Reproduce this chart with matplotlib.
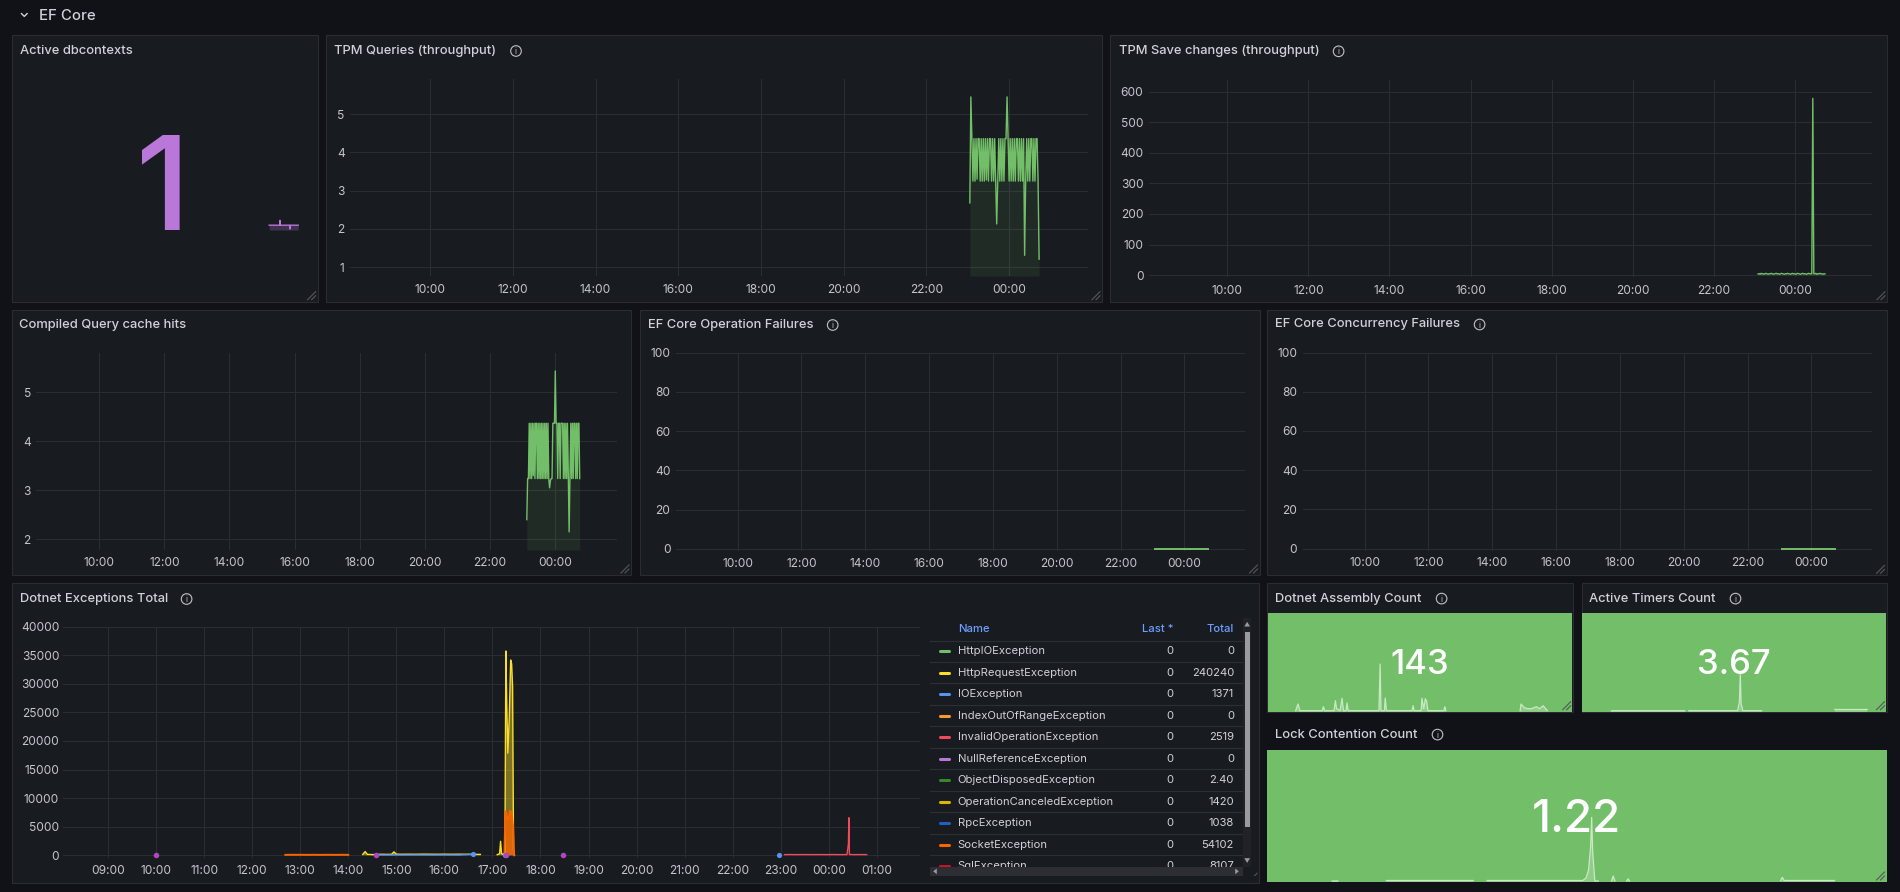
import numpy as np
import matplotlib
matplotlib.use('Agg')
import matplotlib.pyplot as plt
import matplotlib.transforms as mtransforms
from matplotlib.patches import Rectangle, Circle, Polygon
from matplotlib.lines import Line2D
from matplotlib.ticker import FixedLocator, FuncFormatter

plt.rcParams['font.family'] = ['Inter', 'DejaVu Sans']

# ---------------- DATA ----------------
T_START, T_END = 8.07, 25.9          # visible time range in hours (24 = 00:00 next day)
SAMPLE_STEP = 0.025                  # scrape interval in hours

tpm_q_start = 23.05
tpm_q_values = [2.68, 5.45, 4.36, 3.25, 4.36, 3.25, 4.36, 3.30, 4.36, 4.36,
                3.25, 4.36, 3.25, 4.36, 3.25, 4.36, 3.28, 4.36, 3.25, 4.36,
                4.36, 3.25, 4.36, 3.25, 4.36, 3.25, 2.13, 3.25, 4.36, 3.25,
                4.36, 3.25, 4.36, 3.25, 4.36, 4.36, 5.45, 4.36, 3.25, 4.36,
                3.25, 4.36, 3.25, 4.36, 3.25, 4.36, 4.36, 3.25, 4.36, 3.25,
                4.36, 3.25, 4.36, 1.31, 3.25, 4.36, 3.25, 4.36, 3.25, 4.36,
                4.36, 3.25, 4.36, 3.25, 4.36, 4.36, 3.25, 1.21]

tpm_save_start = 23.09
tpm_save_values = [4, 5, 3, 6, 4, 5, 3, 5, 6, 4,
                   3, 5, 4, 6, 5, 3, 4, 5, 6, 4,
                   5, 3, 4, 6, 5, 4, 3, 5, 4, 6,
                   5, 4, 3, 5, 6, 4, 5, 3, 4, 6,
                   5, 4, 3, 5, 6, 4, 5, 4, 3, 5,
                   6, 4, 5, 4, 578, 5, 4, 6, 3, 5, 4, 6, 5, 4, 3, 5, 4]

cache_start = 23.13
cache_values = [2.40, 3.24, 3.24, 4.37, 3.24, 4.37, 3.24, 4.37, 3.30, 4.37,
                3.24, 4.37, 4.37, 3.24, 4.37, 3.24, 4.37, 3.24, 4.37, 3.24,
                4.37, 3.24, 4.37, 3.24, 4.37, 3.24, 4.37, 3.24, 3.05, 3.20,
                3.24, 3.24, 4.37, 4.37, 4.37, 5.44, 4.37, 4.37, 3.24, 4.37,
                4.37, 3.24, 4.37, 4.37, 4.37, 3.24, 4.37, 3.24, 4.37, 3.24,
                4.37, 3.30, 2.15, 3.24, 4.37, 3.24, 4.37, 3.24, 4.37, 4.37,
                3.24, 4.37, 3.24, 4.37, 4.37, 3.24]

fail_times = [23.09, 23.5, 24.0, 24.4, 24.74]
op_fail_values = [0, 0, 0, 0, 0]
conc_fail_values = [0, 0, 0, 0, 0]

dbctx_value = "1"
dbctx_times = [23.08, 23.3, 23.6, 23.69, 23.71, 23.73, 24.0, 24.27, 24.29, 24.31, 24.5, 24.77]
dbctx_values = [1, 1, 1, 1, 1.1, 1, 1, 1, 0.92, 1, 1, 1]

# Dotnet exceptions time series
httpreq_times = [14.30, 14.35, 14.40, 14.45, 14.50, 14.60, 14.70, 14.80, 14.90, 14.95,
                 15.00, 15.10, 15.25, 15.40, 15.55, 15.70, 15.85, 16.00, 16.15, 16.30,
                 16.45, 16.60, 16.75, 16.90,
                 17.10, 17.15, 17.17, 17.19, 17.22, 17.26, 17.28, 17.30, 17.32, 17.35,
                 17.38, 17.40, 17.42, 17.44, 17.46]
httpreq_values = [150, 650, 150, 150, 120, 150, 180, 160, 170, 600,
                  200, 180, 190, 180, 200, 190, 180, 190, 180, 190,
                  180, 170, 150, np.nan,
                  100, 300, 2450, 300, 150, 400, 35750, 26000, 17880, 24000,
                  34180, 33500, 29500, 900, 50]

socket_times = [12.69, 12.8, 12.9, 13.0, 13.1, 13.2, 13.3, 13.4, 13.5, 13.6, 13.7, 13.8, 13.9, 14.0, 14.1,
                17.25, 17.27, 17.29, 17.31, 17.33, 17.35, 17.37, 17.39, 17.41, 17.43, 17.45]
socket_values = [80, 90, 85, 90, 80, 85, 90, 80, 85, 90, 80, 85, 90, 80, np.nan,
                 0, 7700, 7400, 6300, 6240, 7000, 7800, 7600, 6500, 5000, 0]

invalidop_times = [23.08, 23.2, 23.35, 23.5, 23.65, 23.8, 23.95, 24.1, 24.25, 24.38,
                   24.41, 24.42, 24.43, 24.45, 24.55, 24.65, 24.79]
invalidop_values = [120, 130, 120, 130, 120, 130, 120, 130, 120, 130,
                    2000, 6580, 150, 130, 120, 130, 120]

ioexc_times = [14.55, 14.8, 15.1, 15.4, 15.7, 16.0, 16.3, 16.62]
ioexc_values = [60, 70, 60, 70, 60, 70, 60, 200]
ioexc_dot_times = [16.6, 17.27, 22.96]
ioexc_dot_values = [150, 0, 0]

nullref_dot_times = [10.0, 14.58, 17.28, 18.46]
nullref_dot_values = [0, 0, 0, 0]

exc_names = ["HttpIOException", "HttpRequestException", "IOException", "IndexOutOfRangeException",
             "InvalidOperationException", "NullReferenceException", "ObjectDisposedException",
             "OperationCanceledException", "RpcException", "SocketException", "SqlException"]
exc_colors = ["#73bf69", "#fade2a", "#5794f2", "#ff9830", "#f2495c", "#b877d9", "#37872d",
              "#e0b400", "#1f60c4", "#fa6400", "#c4162a"]
exc_last = ["0", "0", "0", "0", "0", "0", "0", "0", "0", "0", "0"]
exc_total = ["0", "240240", "1371", "0", "2519", "0", "2.40", "1420", "1038", "54102", "8107"]

# Stat panels
assembly_value = "143"
assembly_times = [9.70, 9.84, 9.95, 11.25, 11.33, 11.40, 11.95, 12.03, 12.10, 12.30, 12.42, 12.50,
                  12.65, 12.71, 12.78, 14.58, 14.65, 14.70, 14.90, 14.95, 15.02, 16.52, 16.58,
                  16.64, 17.05, 17.10, 17.20, 17.30, 17.38, 17.45, 18.38, 18.44, 18.50, 20.0,
                  22.85, 22.90, 23.10, 23.30, 23.50, 23.80, 24.00, 24.20, 24.44]
assembly_values = [1, 7.7, 1, 1, 5, 1, 1, 11, 3, 1, 13.4, 1,
                   1, 8.7, 1, 1, 47.7, 1, 1, 13.7, 1, 1, 6,
                   1, 1, 13.4, 3, 13, 10, 1, 1, 5, 1, np.nan,
                   1, 7.7, 4, 3, 3, 5, 3, 6, 1]

timers_value = "3.67"
timers_times = [9.79, 14.1, 14.2, 14.33, 17.2, 17.3, 17.35, 17.4, 17.5, 18.6, 20.0, 22.9, 24.8]
timers_values = [1, 1, np.nan, 1, 1, 10, 37.8, 8, 1, 1, np.nan, 2.2, 2.2]

lock_value = "1.22"
lock_times = [9.94, 10.1, 10.8, 11.5, 14.0, 14.2, 14.4, 17.15, 17.25, 17.32, 17.38, 17.41, 17.44,
              17.5, 17.6, 17.8, 17.98, 18.03, 18.08, 18.2, 18.42, 18.46, 18.5, 20.0,
              22.85, 22.9, 22.95, 23.5, 24.4]
lock_values = [1, 1, np.nan, 1.5, 1.5, np.nan, 1.5, 1.5, 4, 12, 35, 64.6, 30,
               1, 1, np.nan, 1, 6, 1, np.nan, 1, 3.2, 1, np.nan,
               1.5, 4.7, 1.5, 1.5, 1.5]

# ---------------- STYLE ----------------
W, H = 1900, 892
BG = '#111217'
PANEL = '#181b1f'
BORDER = '#2a2c31'
GRID = '#2a2d32'
TXT = '#d0d1da'
TICK = '#c3c4cd'
GREEN = '#73bf69'
PURPLE = '#b877d9'
TITLE_SIZE = 9.3
LEG_SIZE = 8.1

fig = plt.figure(figsize=(W / 100, H / 100), dpi=100, facecolor=BG)
pxT = mtransforms.Affine2D().scale(1 / W, -1 / H).translate(0, 1) + fig.transFigure


def rect(x0, y0, x1, y1, fc, ec='none', z=-2, lw=1.0):
    fig.add_artist(Rectangle((x0, y0), x1 - x0, y1 - y0, transform=pxT, fc=fc, ec=ec, lw=lw, zorder=z))


def panel(x0, y0, x1, y1):
    rect(x0, y0, x1, y1, PANEL, BORDER, z=-2, lw=0.8)


def title(x, y, s, size=TITLE_SIZE):
    fig.text(x, y, s, transform=pxT, ha='left', va='center', fontsize=size, color=TXT, fontweight='medium')


def info(x, y):
    fig.add_artist(Circle((x, y), 5.3, transform=pxT, fill=False, ec='#c0c1ca', lw=0.8, zorder=3))
    fig.text(x, y + 0.5, 'i', transform=pxT, ha='center', va='center', fontsize=5.8, color='#c0c1ca')


def handle(x1, y1):
    for d in (4, 8):
        fig.add_artist(Line2D([x1 - d - 2, x1 - 2], [y1 - 2, y1 - d - 2], transform=pxT,
                              color='#55575d', lw=0.8, zorder=3))


def mkax(x0, y0, x1, y1):
    ax = fig.add_axes([x0 / W, 1 - y1 / H, (x1 - x0) / W, (y1 - y0) / H])
    ax.set_facecolor('none')
    for s in ax.spines.values():
        s.set_visible(False)
    return ax


def style_ts(ax, xticks, yticks, ylim, xpad=5.0, ypad=4.0):
    ax.set_xlim(T_START, T_END)
    ax.set_ylim(*ylim)
    ax.xaxis.set_major_locator(FixedLocator(xticks))
    ax.yaxis.set_major_locator(FixedLocator(yticks))
    ax.xaxis.set_major_formatter(FuncFormatter(lambda v, p: f"{int(round(v)) % 24:02d}:00"))
    ax.yaxis.set_major_formatter(FuncFormatter(lambda v, p: f"{v:g}"))
    ax.tick_params(axis='x', length=0, labelsize=8.6, colors=TICK, pad=xpad)
    ax.tick_params(axis='y', length=0, labelsize=8.6, colors=TICK, pad=ypad)
    ax.grid(True, color=GRID, lw=0.8)
    ax.set_axisbelow(True)


def series_times(start, values):
    return start + SAMPLE_STEP * np.arange(len(values))


def spark(ax, t, v, ylim, color, fill_alpha, lw=1.0):
    ax.set_xlim(T_START, T_END)
    ax.set_ylim(*ylim)
    ax.set_xticks([]); ax.set_yticks([])
    t = np.asarray(t, float); v = np.asarray(v, float)
    ax.plot(t, v, color=color, lw=lw, solid_joinstyle='round')
    ax.fill_between(t, v, ylim[0], color=color, alpha=fill_alpha, lw=0)


two_hour_ticks = [10, 12, 14, 16, 18, 20, 22, 24]
hour_ticks = list(range(9, 26))

# ---------------- HEADER ----------------
fig.add_artist(Line2D([21.5, 24.3, 27.1], [13.6, 16.4, 13.6], transform=pxT, color=TXT, lw=1.0, zorder=3))
fig.text(38.6, 15.5, "EF Core", transform=pxT, ha='left', va='center', fontsize=10.8,
         color=TXT, fontweight='medium')

# ---------------- ROW 1 ----------------
# Active dbcontexts
panel(11.6, 35.3, 317.6, 301.7)
title(20, 50.7, "Active dbcontexts")
fig.text(162.6, 230, dbctx_value, transform=pxT, ha='center', va='baseline', fontsize=94,
         color=PURPLE, fontweight='medium')
axs = mkax(11.6, 206, 317.6, 230)
spark(axs, dbctx_times, dbctx_values, (0.9, 1.4), PURPLE, 0.25)
handle(317.6, 301.7)

# TPM Queries
panel(326, 35.3, 1102, 301.7)
title(334, 50.7, "TPM Queries (throughput)")
info(516, 51)
ax = mkax(350.3, 79.3, 1087.7, 276)
style_ts(ax, two_hour_ticks, [1, 2, 3, 4, 5], (0.77, 5.91), xpad=6.0)
tq = series_times(tpm_q_start, tpm_q_values)
ax.plot(tq, tpm_q_values, color=GREEN, lw=1.0)
ax.fill_between(tq, tpm_q_values, 0.77, color=GREEN, alpha=0.1, lw=0)
handle(1102, 301.7)

# TPM Save changes
panel(1110, 35.3, 1887, 301.7)
title(1119, 51.3, "TPM Save changes (throughput)")
info(1338.6, 51.3)
ax = mkax(1149, 80, 1872, 276.7)
style_ts(ax, two_hour_ticks, [0, 100, 200, 300, 400, 500, 600], (-5, 638), xpad=6.0)
ts = series_times(tpm_save_start, tpm_save_values)
ax.plot(ts, tpm_save_values, color=GREEN, lw=1.0)
ax.fill_between(ts, tpm_save_values, 0, color=GREEN, alpha=0.1, lw=0)
handle(1887, 301.7)

# ---------------- ROW 2 ----------------
panel(12, 309.7, 631, 575)
title(19.4, 325, "Compiled Query cache hits")
ax = mkax(36.4, 353.3, 617, 550)
style_ts(ax, two_hour_ticks, [2, 3, 4, 5], (1.78, 5.8))
tc = series_times(cache_start, cache_values)
ax.plot(tc, cache_values, color=GREEN, lw=1.0)
ax.fill_between(tc, cache_values, 1.78, color=GREEN, alpha=0.1, lw=0)
handle(631, 575)

panel(640, 309.7, 1259.5, 575)
title(648, 325, "EF Core Operation Failures")
info(832.7, 325)
ax = mkax(676, 352.7, 1245, 550.7)
style_ts(ax, two_hour_ticks, [0, 20, 40, 60, 80, 100], (-1, 100))
ax.plot(fail_times, op_fail_values, color=GREEN, lw=1.4)
handle(1259.5, 575)

panel(1267.3, 309.6, 1886.5, 575.4)
title(1275, 324.5, "EF Core Concurrency Failures")
info(1479.6, 324.5)
ax = mkax(1302.9, 352.6, 1872, 550.5)
style_ts(ax, two_hour_ticks, [0, 20, 40, 60, 80, 100], (-1, 100))
ax.plot(fail_times, conc_fail_values, color=GREEN, lw=1.4)
handle(1886.5, 575.4)

# ---------------- ROW 3 ----------------
panel(11.7, 582.7, 1259, 883.3)
title(20, 599, "Dotnet Exceptions Total")
info(186.6, 599)
ax = mkax(63.4, 626.7, 920, 857.7)
style_ts(ax, hour_ticks, list(range(0, 40001, 5000)), (-420, 40000), ypad=3.0)
c = dict(zip(exc_names, exc_colors))
ht = np.array(httpreq_times, float); hv = np.array(httpreq_values, float)
ax.fill_between(ht, hv, 0, color=c["HttpRequestException"], alpha=0.45, lw=0)
ax.plot(ht, hv, color=c["HttpRequestException"], lw=1.0)
st = np.array(socket_times, float); sv = np.array(socket_values, float)
ax.fill_between(st, sv, 0, color=c["SocketException"], alpha=0.75, lw=0)
ax.plot(st, sv, color=c["SocketException"], lw=1.4)
ax.plot(invalidop_times, invalidop_values, color=c["InvalidOperationException"], lw=1.0)
ax.plot(ioexc_times, ioexc_values, color=c["IOException"], lw=1.0)
ax.scatter(ioexc_dot_times, ioexc_dot_values, s=14, color=c["IOException"], zorder=3, lw=0)
ax.scatter(nullref_dot_times, nullref_dot_values, s=16, color='#b144c2', zorder=3, lw=0)

# legend table
LX0, LX1 = 930, 1241.7
fig.text(957.7, 629.3, "Name", transform=pxT, ha='left', va='center', fontsize=LEG_SIZE,
         color='#6e9fff', fontweight='medium')
fig.text(1173.3, 629.3, "Last *", transform=pxT, ha='right', va='center', fontsize=LEG_SIZE,
         color='#6e9fff', fontweight='medium')
fig.text(1234, 629.3, "Total", transform=pxT, ha='right', va='center', fontsize=LEG_SIZE,
         color='#6e9fff', fontweight='medium')
row_y0, row_h = 651.3, 21.47
fig.add_artist(Line2D([LX0, LX1], [641, 641], transform=pxT, color='#2c2f34', lw=0.8, zorder=1))
for i, (nm, col, la, to) in enumerate(zip(exc_names, exc_colors, exc_last, exc_total)):
    yy = row_y0 + i * row_h
    fig.add_artist(Line2D([939.5, 948.8], [yy, yy], transform=pxT, color=col, lw=2.2,
                          solid_capstyle='round', zorder=3))
    fig.text(957.7, yy, nm, transform=pxT, ha='left', va='center', fontsize=LEG_SIZE, color=TXT)
    fig.text(1173.3, yy, la, transform=pxT, ha='right', va='center', fontsize=LEG_SIZE, color=TXT)
    fig.text(1234, yy, to, transform=pxT, ha='right', va='center', fontsize=LEG_SIZE, color=TXT)
    fig.add_artist(Line2D([LX0, LX1], [yy + 10.7, yy + 10.7], transform=pxT, color='#2c2f34',
                          lw=0.8, zorder=1))
# scrollbars
rect(1242.7, 618, 1251, 866.5, '#202226', z=4)
rect(1244.6, 631.7, 1249.6, 826.7, '#9a9b9f', z=5)
fig.add_artist(Polygon([[1244.3, 626.5], [1250, 626.5], [1247.15, 621.8]], closed=True, transform=pxT,
                       fc='#9a9b9f', ec='none', zorder=5))
fig.add_artist(Polygon([[1244.3, 858.2], [1250, 858.2], [1247.15, 862.9]], closed=True, transform=pxT,
                       fc='#9a9b9f', ec='none', zorder=5))
rect(930, 866.7, 1242.7, 876, '#2c2e33', z=6)
fig.add_artist(Polygon([[936.8, 868.5], [936.8, 874.2], [933.2, 871.3]], closed=True, transform=pxT,
                       fc='#9a9b9f', ec='none', zorder=7))
fig.add_artist(Polygon([[1235.2, 868.5], [1235.2, 874.2], [1238.8, 871.3]], closed=True, transform=pxT,
                       fc='#9a9b9f', ec='none', zorder=7))
rect(930, 876, 1258, 882.6, PANEL, z=6)
handle(1259, 883.3)

# Stat: Dotnet Assembly Count
panel(1267.3, 583.3, 1572.7, 711.7)
rect(1267.8, 612.9, 1572.2, 711.7, GREEN, z=-1)
title(1275, 598.6, "Dotnet Assembly Count")
info(1441.6, 598.6)
axs = mkax(1267.8, 612.9, 1572.2, 711.7)
spark(axs, assembly_times, assembly_values, (0, 99), '#c9e9c4', 0.35, lw=0.9)
fig.text(1420, 674, assembly_value, transform=pxT, ha='center', va='baseline', fontsize=25,
         color='white', fontweight='medium')
handle(1572.7, 711.7)

# Stat: Active Timers Count
panel(1581.6, 583.3, 1886.5, 711.7)
rect(1582.1, 612.9, 1886, 711.7, GREEN, z=-1)
title(1589.4, 598.6, "Active Timers Count")
info(1735.5, 598.6)
axs = mkax(1582.1, 612.9, 1886, 711.7)
spark(axs, timers_times, timers_values, (0, 99), '#c9e9c4', 0.35, lw=0.9)
fig.text(1734.3, 674, timers_value, transform=pxT, ha='center', va='baseline', fontsize=25,
         color='white', fontweight='medium')
handle(1886.5, 711.7)

# Stat: Lock Contention Count (transparent panel)
title(1275, 734.6, "Lock Contention Count")
info(1437.5, 734.6)
rect(1267.3, 750, 1886.5, 882, GREEN, z=-1)
axs = mkax(1267.3, 750, 1886.5, 882)
spark(axs, lock_times, lock_values, (0, 132), '#c9e9c4', 0.35, lw=0.9)
fig.text(1576.7, 832.4, lock_value, transform=pxT, ha='center', va='baseline', fontsize=33,
         color='white', fontweight='medium')
handle(1886.5, 882)

fig.savefig('out.png', dpi=100, facecolor=BG)
